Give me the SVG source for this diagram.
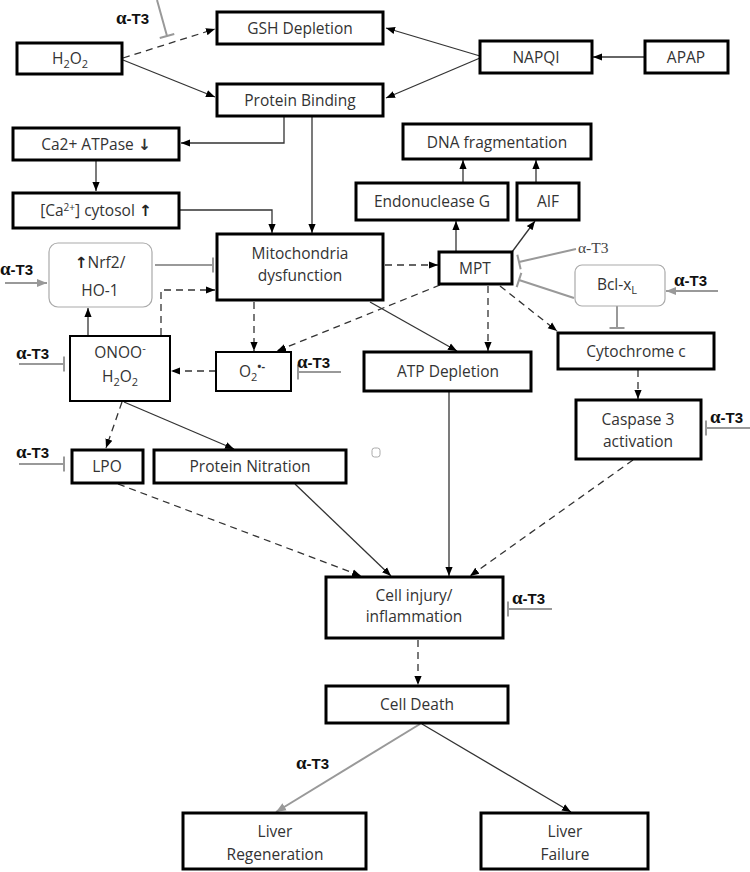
<svg xmlns="http://www.w3.org/2000/svg" width="750" height="872" viewBox="0 0 750 872">
<style>
.b{fill:#fff;stroke:#000;stroke-width:3}
.bt{fill:#fff;stroke:#000;stroke-width:2}
.g{fill:#fff;stroke:#aaa;stroke-width:1.2}
.t{font-family:"Open Sans","Liberation Sans",sans-serif;font-size:15.5px;fill:#333;text-anchor:middle}
.a{font-family:"Liberation Sans",sans-serif;font-size:15px;font-weight:bold;fill:#111}
.al{font-family:"Liberation Serif",serif;font-size:19px}
.s{fill:none;stroke:#333;stroke-width:1.3}
.d{fill:none;stroke:#333;stroke-width:1.3;stroke-dasharray:7,5}
.gr{fill:none;stroke:#999;stroke-width:2}
</style>
<defs>
<marker id="ah" viewBox="0 0 10 10" refX="10" refY="5" markerWidth="9" markerHeight="9" markerUnits="userSpaceOnUse" orient="auto"><path d="M0,1 L10,5 L0,9 z" fill="#000"/></marker>
<marker id="ag" viewBox="0 0 10 10" refX="10" refY="5" markerWidth="10" markerHeight="10" markerUnits="userSpaceOnUse" orient="auto"><path d="M0,1 L10,5 L0,9 z" fill="#999"/></marker>
<marker id="tb" viewBox="-2 -9 4 18" refX="0" refY="0" markerWidth="4" markerHeight="18" markerUnits="userSpaceOnUse" orient="auto"><path d="M0,-7.5 V7.5" stroke="#999" stroke-width="2"/></marker>
</defs>

<g id="connectors">
<path class="d" d="M123,58 L215,29" marker-end="url(#ah)"/>
<path class="s" d="M123,60 L215,97" marker-end="url(#ah)"/>
<path class="s" d="M480,56 L386,28" marker-end="url(#ah)"/>
<path class="s" d="M480,58 L386,98" marker-end="url(#ah)"/>
<path class="s" d="M645,57 H593" marker-end="url(#ah)"/>
<path class="s" d="M284,117 V143 H181" marker-end="url(#ah)"/>
<path class="s" d="M312,117 V233" marker-end="url(#ah)"/>
<path class="s" d="M96,161 V191" marker-end="url(#ah)"/>
<path class="s" d="M180,210 H272 V233" marker-end="url(#ah)"/>
<path class="gr" d="M155,265 H213" marker-end="url(#tb)"/>
<path class="gr" d="M5,283 H47" marker-end="url(#ag)"/>
<path class="s" d="M88,335 V308" marker-end="url(#ah)"/>
<path class="d" d="M161,335 V290 H215" marker-end="url(#ah)"/>
<path class="d" d="M385,265 H438" marker-end="url(#ah)"/>
<path class="d" d="M254,302 V351" marker-end="url(#ah)"/>
<path class="d" d="M440,285 L277,351" marker-end="url(#ah)"/>
<path class="s" d="M370,302 L457,351" marker-end="url(#ah)"/>
<path class="d" d="M488,286 V351" marker-end="url(#ah)"/>
<path class="d" d="M500,286 L557,331" marker-end="url(#ah)"/>
<path class="s" d="M456,251 V221" marker-end="url(#ah)"/>
<path class="s" d="M512,252 L535,221" marker-end="url(#ah)"/>
<path class="s" d="M463,182 V160" marker-end="url(#ah)"/>
<path class="s" d="M536,182 V160" marker-end="url(#ah)"/>
<path class="gr" d="M576,249 L519,262" marker-end="url(#tb)"/>
<path class="gr" d="M574,298 L519,280" marker-end="url(#tb)"/>
<path class="gr" d="M718,291 H666" marker-end="url(#ag)"/>
<path class="gr" d="M617,306 V328" marker-end="url(#tb)"/>
<path class="d" d="M216,371 H171" marker-end="url(#ah)"/>
<path class="gr" d="M341,372 H298" marker-end="url(#tb)"/>
<path class="gr" d="M19,364 H64" marker-end="url(#tb)"/>
<path class="gr" d="M19,464 H64" marker-end="url(#tb)"/>
<path class="d" d="M122,402 L106,448" marker-end="url(#ah)"/>
<path class="s" d="M124,402 L234,449" marker-end="url(#ah)"/>
<path class="d" d="M118,484 L361,576" marker-end="url(#ah)"/>
<path class="s" d="M295,484 L391,576" marker-end="url(#ah)"/>
<path class="s" d="M449,392 V576" marker-end="url(#ah)"/>
<path class="d" d="M633,460 L470,576" marker-end="url(#ah)"/>
<path class="d" d="M638,370 V399" marker-end="url(#ah)"/>
<path class="gr" d="M750,428 H706" marker-end="url(#tb)"/>
<path class="d" d="M418,640 V685" marker-end="url(#ah)"/>
<path class="gr" d="M552,609 H508" marker-end="url(#tb)"/>
<path class="gr" d="M420,724 L276,812" marker-end="url(#ag)"/>
<path class="s" d="M422,724 L571,812" marker-end="url(#ah)"/>
<path class="gr" d="M157,0 L167,36" marker-end="url(#tb)"/>
</g>

<g id="labels">
<text class="a" x="116" y="24"><tspan class="al">α</tspan>-T3</text>
<text class="a" x="0" y="275"><tspan class="al">α</tspan>-T3</text>
<text class="a" x="16" y="359"><tspan class="al">α</tspan>-T3</text>
<text class="a" x="16" y="458"><tspan class="al">α</tspan>-T3</text>
<text class="a" x="297" y="368"><tspan class="al">α</tspan>-T3</text>
<text class="a" x="674" y="286"><tspan class="al">α</tspan>-T3</text>
<text class="a" x="710" y="423"><tspan class="al">α</tspan>-T3</text>
<text class="a" x="512" y="604"><tspan class="al">α</tspan>-T3</text>
<text class="a" x="296" y="769"><tspan class="al">α</tspan>-T3</text>
<text x="578" y="253" font-family="Liberation Serif" font-size="15.5" fill="#444">α-T3</text>
<rect x="372" y="448" width="8" height="9" rx="2.5" fill="none" stroke="#aaa" stroke-width="1"/>
</g>

<g id="n-h2o2"><rect class="b" x="17" y="43" width="105" height="31"/><text class="t" x="70" y="64">H<tspan font-size="11" dy="4">2</tspan><tspan dy="-4">O</tspan><tspan font-size="11" dy="4">2</tspan></text></g>
<g id="n-gsh"><rect class="b" x="217" y="12" width="166" height="32"/><text class="t" x="300" y="34">GSH Depletion</text></g>
<g id="n-pb"><rect class="b" x="217" y="84" width="166" height="32"/><text class="t" x="300" y="106">Protein Binding</text></g>
<g id="n-napqi"><rect class="b" x="480" y="41" width="112" height="32"/><text class="t" x="536" y="63">NAPQI</text></g>
<g id="n-apap"><rect class="b" x="645" y="41" width="83" height="32"/><text class="t" x="686" y="63">APAP</text></g>
<g id="n-caatp"><rect class="b" x="13" y="128" width="166" height="32"/><text class="t" x="96" y="150">Ca2+ ATPase <tspan font-family="DejaVu Sans" font-weight="bold">↓</tspan></text></g>
<g id="n-cacyt"><rect class="b" x="13" y="193" width="166" height="35"/><text class="t" x="96" y="216" fill="#555">[Ca<tspan font-size="10" dy="-5">2+</tspan><tspan dy="5">] cytosol </tspan><tspan font-family="DejaVu Sans" font-weight="bold" fill="#222">↑</tspan></text></g>
<g id="n-nrf2"><rect class="g" x="49" y="243" width="103" height="64" rx="9"/><text class="t" x="100" y="268"><tspan font-family="DejaVu Sans" font-weight="bold" fill="#222">↑</tspan>Nrf2/</text><text class="t" x="100" y="296">HO-1</text></g>
<g id="n-mito"><rect class="b" x="217" y="234" width="166" height="66"/><text class="t" x="300" y="259">Mitochondria</text><text class="t" x="300" y="281">dysfunction</text></g>
<g id="n-dna"><rect class="b" x="403" y="124" width="188" height="35"/><text class="t" x="497" y="148">DNA fragmentation</text></g>
<g id="n-endog"><rect class="b" x="356" y="183" width="152" height="37"/><text class="t" x="432" y="207">Endonuclease G</text></g>
<g id="n-aif"><rect class="b" x="517" y="183" width="62" height="37"/><text class="t" x="548" y="207">AIF</text></g>
<g id="n-mpt"><rect class="b" x="439" y="252" width="73" height="32"/><text class="t" x="475" y="274">MPT</text></g>
<g id="n-bcl"><rect class="g" x="575" y="265" width="90" height="41" rx="7"/><text class="t" x="617" y="290">Bcl-x<tspan font-size="11" dy="4">L</tspan></text></g>
<g id="n-onoo"><rect class="bt" x="70" y="336" width="100" height="65"/><text class="t" x="120" y="358">ONOO<tspan font-size="11" dy="-6">-</tspan></text><text class="t" x="120" y="382">H<tspan font-size="11" dy="4">2</tspan><tspan dy="-4">O</tspan><tspan font-size="11" dy="4">2</tspan></text></g>
<g id="n-o2"><rect class="bt" x="216" y="352" width="75" height="39"/><text class="t" x="252" y="377">O<tspan font-size="11" dy="4">2</tspan><tspan font-size="11" dy="-11" font-weight="bold">•-</tspan></text></g>
<g id="n-lpo"><rect class="b" x="72" y="450" width="71" height="33"/><text class="t" x="107" y="472">LPO</text></g>
<g id="n-pn"><rect class="b" x="154" y="450" width="192" height="33"/><text class="t" x="250" y="472">Protein Nitration</text></g>
<g id="n-atp"><rect class="b" x="364" y="352" width="167" height="39"/><text class="t" x="448" y="377">ATP Depletion</text></g>
<g id="n-cyt"><rect class="b" x="558" y="333" width="156" height="36"/><text class="t" x="636" y="357">Cytochrome c</text></g>
<g id="n-casp"><rect class="b" x="576" y="400" width="125" height="59"/><text class="t" x="638" y="425">Caspase 3</text><text class="t" x="638" y="447">activation</text></g>
<g id="n-ci"><rect class="b" x="326" y="577" width="177" height="61"/><text class="t" x="414" y="601">Cell injury/</text><text class="t" x="414" y="622">inflammation</text></g>
<g id="n-cd"><rect class="b" x="326" y="686" width="182" height="37"/><text class="t" x="417" y="710">Cell Death</text></g>
<g id="n-lr"><rect class="b" x="183" y="813" width="183" height="56"/><text class="t" x="275" y="837">Liver</text><text class="t" x="275" y="860">Regeneration</text></g>
<g id="n-lf"><rect class="b" x="481" y="813" width="167" height="56"/><text class="t" x="565" y="837">Liver</text><text class="t" x="565" y="860">Failure</text></g>
</svg>
